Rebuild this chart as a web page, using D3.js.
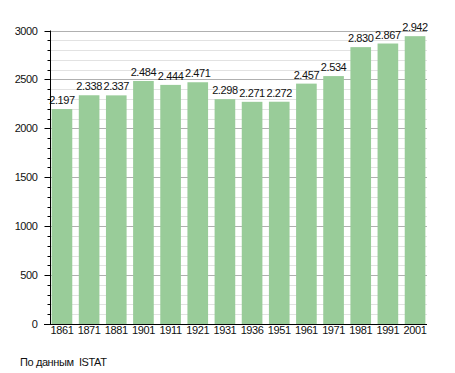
<!DOCTYPE html>
<html>
<head>
<meta charset="utf-8">
<script src="https://cdn.jsdelivr.net/npm/d3@7"></script>
<style>
  body { margin: 0; background: #fff; }
  text { font-family: "Liberation Sans", Arial, sans-serif; font-size: 11px; fill: #111; letter-spacing: -0.4px; }
</style>
</head>
<body>
<svg id="chart" width="455" height="373"></svg>
<script>
const years = ['1861', '1871', '1881', '1901', '1911', '1921', '1931', '1936', '1951', '1961', '1971', '1981', '1991', '2001'];
const population = [2197, 2338, 2337, 2484, 2444, 2471, 2298, 2271, 2272, 2457, 2534, 2830, 2867, 2942];
const yTicks = [0, 500, 1000, 1500, 2000, 2500, 3000];
const source = 'По данным  ISTAT';

const plot = { left: 50, right: 427, top: 30.5, bottom: 324 };

const svg = d3.select('#chart');

const x = d3.scaleBand()
  .domain(years)
  .range([plot.left, plot.right])
  .paddingInner(0.24)
  .paddingOuter(0.06);

const y = d3.scaleLinear()
  .domain([0, 3000])
  .range([plot.bottom, plot.top]);

// minor grid every 100
const minor = d3.range(100, 3000, 100).filter(v => v % 500 !== 0);
svg.append('g').selectAll('line')
  .data(minor)
  .enter()
  .append('line')
  .attr('x1', plot.left).attr('x2', plot.right)
  .attr('y1', d => Math.round(y(d)) + 0.5)
  .attr('y2', d => Math.round(y(d)) + 0.5)
  .attr('stroke', '#e2e2e2');

svg.append('g').selectAll('line')
  .data(yTicks.slice(1))
  .enter()
  .append('line')
  .attr('x1', plot.left).attr('x2', plot.right)
  .attr('y1', d => Math.round(y(d)) + 0.5)
  .attr('y2', d => Math.round(y(d)) + 0.5)
  .attr('stroke', '#b0b0b0');

// bars
svg.append('g').selectAll('rect')
  .data(population)
  .enter()
  .append('rect')
  .attr('x', (d, i) => x(years[i]))
  .attr('width', x.bandwidth())
  .attr('y', d => y(d))
  .attr('height', d => y(0) - y(d))
  .attr('fill', '#99cc99');

// value labels
svg.append('g').selectAll('text')
  .data(population)
  .enter()
  .append('text')
  .attr('x', (d, i) => x(years[i]) + x.bandwidth() / 2)
  .attr('y', d => y(d) - 5)
  .attr('text-anchor', 'middle')
  .text(d => d3.format(',')(d).replace(',', '.'));

// y axis
const yAxis = svg.append('g').attr('transform', `translate(${plot.left + 0.5},0)`);
yAxis.append('line')
  .attr('y1', plot.top).attr('y2', plot.bottom)
  .attr('stroke', '#000');
yAxis.selectAll('.tick')
  .data(d3.range(0, 3001, 100))
  .enter()
  .append('line')
  .attr('class', 'tick')
  .attr('x1', d => d % 500 === 0 ? -6 : -3).attr('x2', 0)
  .attr('y1', d => Math.round(y(d)) + 0.5)
  .attr('y2', d => Math.round(y(d)) + 0.5)
  .attr('stroke', '#000');
yAxis.selectAll('text')
  .data(yTicks)
  .enter()
  .append('text')
  .attr('x', -13)
  .attr('y', d => y(d) + 4)
  .attr('text-anchor', 'end')
  .text(d => d);

// x axis
svg.append('line')
  .attr('x1', plot.left - 6).attr('x2', plot.right)
  .attr('y1', plot.bottom + 0.5).attr('y2', plot.bottom + 0.5)
  .attr('stroke', '#000')
  .attr('stroke-width', 1.2);
svg.append('g').selectAll('text')
  .data(years)
  .enter()
  .append('text')
  .attr('x', d => x(d) + x.bandwidth() / 2)
  .attr('y', plot.bottom + 10)
  .attr('text-anchor', 'middle')
  .text(d => d);

svg.append('text')
  .attr('x', 20)
  .attr('y', 366)
  .style('white-space', 'pre')
  .text(source);
</script>
</body>
</html>
